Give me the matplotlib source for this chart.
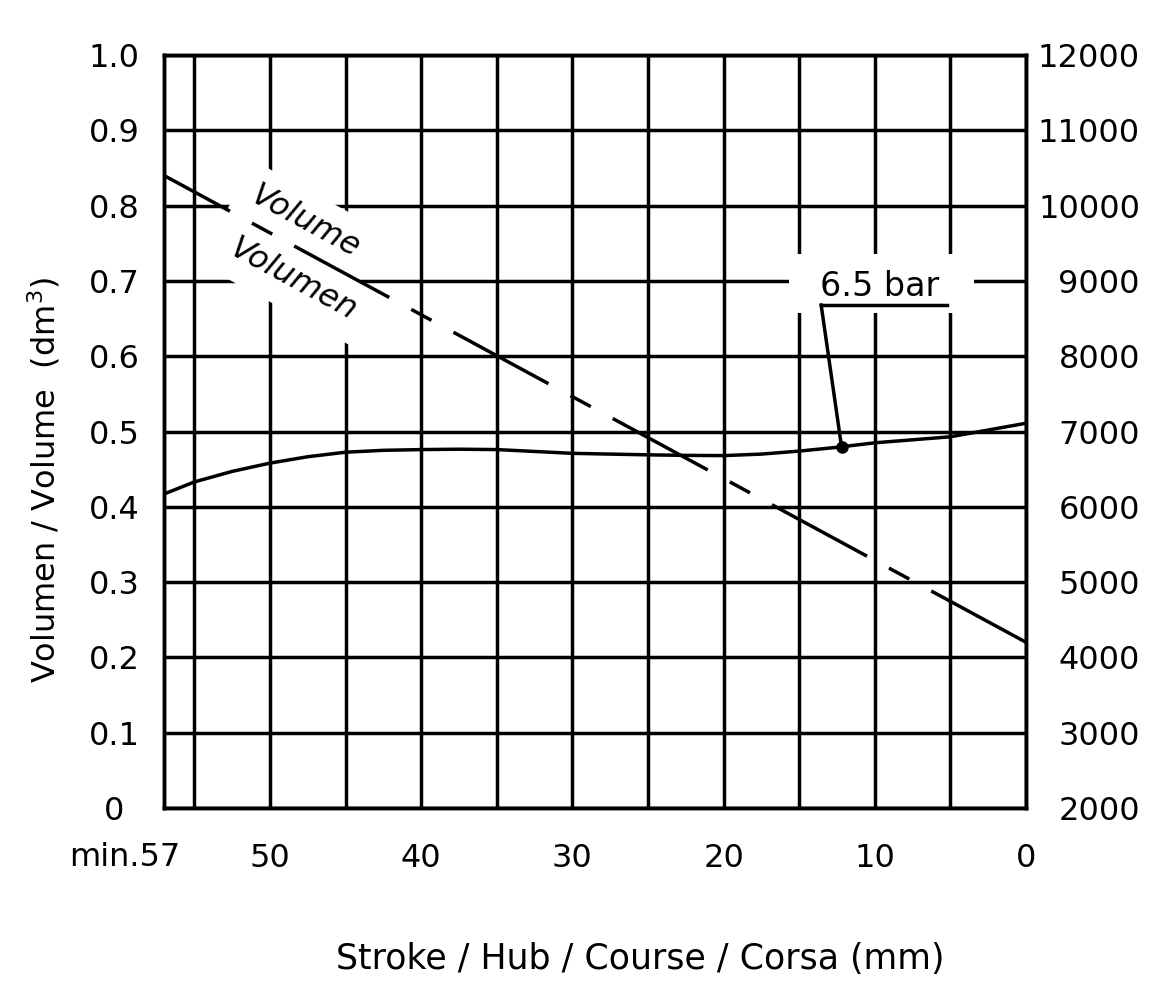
import matplotlib
matplotlib.use("Agg")
import matplotlib.pyplot as plt
from matplotlib.patches import Rectangle

plt.rcParams["font.family"] = ["DejaVu Sans"]
plt.rcParams["lines.scale_dashes"] = False

# stroke positions (mm) and readings
stroke = [57, 55, 52.5, 50, 47.5, 45, 42.5, 40, 37.5, 35, 32.5, 30, 27.5, 25,
          22.5, 20, 17.5, 15, 12.5, 10, 7.5, 5, 2.5, 0]
force_65bar = [6170, 6330, 6470, 6580, 6665, 6725, 6750, 6760, 6765, 6760, 6735, 6710, 6700, 6690,
               6683, 6680, 6700, 6740, 6790, 6850, 6890, 6930, 7020, 7110]

vol_stroke = [57, 0]
volume = [0.84, 0.22]

marker_stroke = 12.2
marker_force = 6794

x_grid = [55, 50, 45, 40, 35, 30, 25, 20, 15, 10, 5, 0]
x_labels = ["", "50", "", "40", "", "30", "", "20", "", "10", "", "0"]
y_left = [0, 0.1, 0.2, 0.3, 0.4, 0.5, 0.6, 0.7, 0.8, 0.9, 1.0]
y_left_labels = ["0", "0.1", "0.2", "0.3", "0.4", "0.5", "0.6", "0.7", "0.8", "0.9", "1.0"]
y_right = [2000, 3000, 4000, 5000, 6000, 7000, 8000, 9000, 10000, 11000, 12000]

LW = 2.5
FS = 23

fig = plt.figure(figsize=(11.7, 9.88), dpi=100)
ax = fig.add_axes([0.1402, 0.1822, 0.7368, 0.7621])
ax.set_xlim(57, 0)
ax.set_ylim(0, 1.0)
ax.set_xticks(x_grid)
ax.set_xticklabels(x_labels, fontsize=FS)
ax.set_yticks(y_left)
ax.set_yticklabels(y_left_labels, fontsize=FS, ha="center")
ax.tick_params(axis="y", length=0, pad=36)
ax.tick_params(axis="x", length=0, pad=25)
ax.grid(True, color="black", linewidth=LW)
for s in ax.spines.values():
    s.set_linewidth(LW)

ax.text(59.6, -0.066, "min.57", fontsize=FS, ha="center", va="center",
        transform=ax.get_xaxis_transform())

ax.set_xlabel("Stroke / Hub / Course / Corsa (mm)", fontsize=25)
ax.xaxis.set_label_coords(0.552, -0.178)
ax.set_ylabel("Volumen / Volume  (dm$^3$)", fontsize=FS)
ax.yaxis.set_label_coords(-0.118, 0.436)

# volume line, long-short dash
ax.plot(vol_stroke, volume, color="black", linewidth=LW, zorder=4,
        linestyle=(23.8, (77.8, 18, 16.6, 18)))

box = dict(facecolor="white", edgecolor="none", boxstyle="square,pad=0.45")
ax.text(47.7, 0.778, "Volume", fontsize=FS, style="italic", rotation=-28.5,
        rotation_mode="anchor", ha="center", va="center", bbox=box, zorder=3)
ax.text(48.5, 0.701, "Volumen", fontsize=FS, style="italic", rotation=-28.5,
        rotation_mode="anchor", ha="center", va="center", bbox=box, zorder=3)

# force axis
ax2 = ax.twinx()
ax2.set_ylim(2000, 12000)
ax2.set_yticks(y_right)
ax2.set_yticklabels([str(v) for v in y_right], fontsize=FS, ha="right")
ax2.tick_params(axis="y", length=0, pad=82)
for s in ax2.spines.values():
    s.set_linewidth(LW)

ax2.plot(stroke, force_65bar, color="black", linewidth=LW)
ax2.plot([marker_stroke], [marker_force], "o", color="black", markersize=8)

ax2.add_patch(Rectangle((3.44, 8570), 12.23, 790, facecolor="white",
                        edgecolor="none", zorder=2.5))
ax2.text(9.7, 8930, "6.5 bar", fontsize=24, ha="center", va="center", zorder=3)
ax2.plot([13.55, 5.2], [8680, 8680], color="black", linewidth=LW, zorder=4)
ax2.plot([13.55, marker_stroke], [8680, marker_force], color="black", linewidth=LW, zorder=4)

fig.savefig("out.png", dpi=100)
